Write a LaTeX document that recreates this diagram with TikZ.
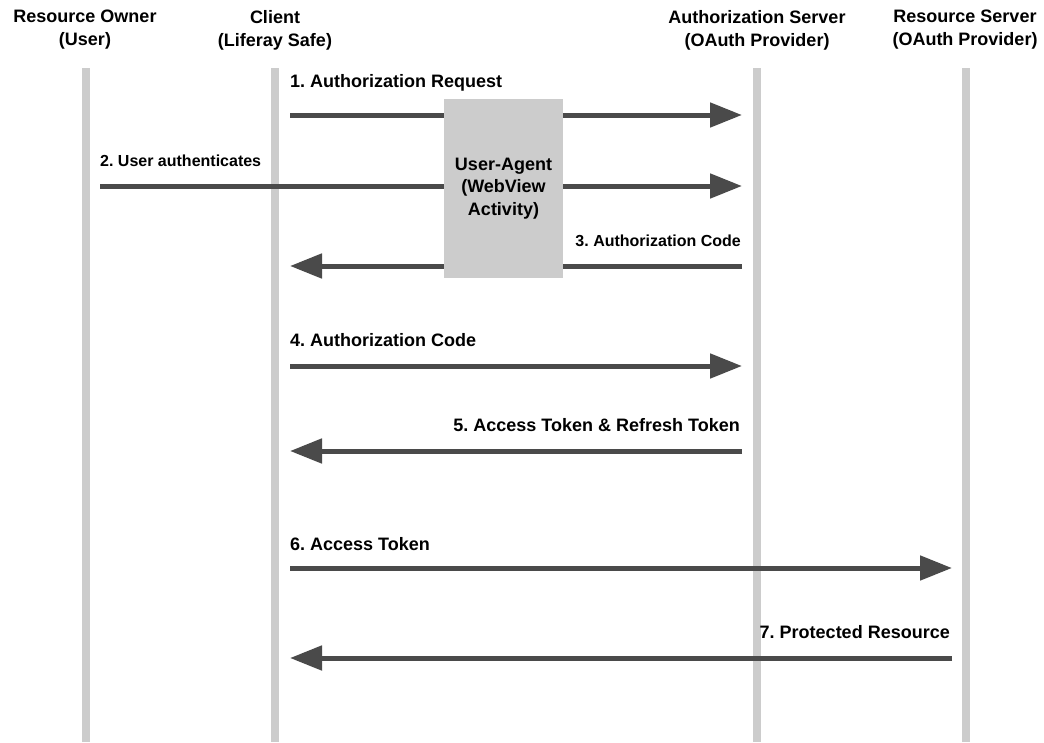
\documentclass[tikz,border=0pt]{standalone}
\usepackage{fontspec}
\setmainfont{Liberation Sans}
\usetikzlibrary{arrows.meta}
\definecolor{lifegray}{HTML}{CCCCCC}
\definecolor{msgdark}{HTML}{4A4A4A}
\frenchspacing
\begin{document}
\begin{tikzpicture}[x=1pt,y=-1pt,
  actor/.style={font=\bfseries\fontsize{18}{23}\selectfont, align=center, inner sep=0pt},
  lifeline/.style={draw=lifegray, line width=8pt},
  msg/.style={draw=msgdark, line width=5pt, -{Triangle[length=32pt,width=24pt]}, shorten >=0pt},
  biglabel/.style={font=\bfseries\fontsize{18}{22}\selectfont, inner sep=0pt},
  smalllabel/.style={font=\bfseries\fontsize{16}{20}\selectfont, inner sep=0pt},
  agent/.style={fill=lifegray, draw=none, minimum width=119pt, minimum height=179pt, inner sep=0pt,
    font=\bfseries\fontsize{18}{22.5}\selectfont, align=center, text=black}]
\useasboundingbox (0,0) rectangle (1044,742);
\fill[white] (0,0) rectangle (1044,742);

% participants
\node[actor] (owner)  at (85,30)  {Resource Owner\\(User)};
\node[actor] (client) at (275,30) {Client\\(Liferay Safe)};
\node[actor] (auth)   at (757,30) {Authorization Server\\(OAuth Provider)};
\node[actor] (res)    at (965,30) {Resource Server\\(OAuth Provider)};

% lifelines
\coordinate (ownerTop) at (86,68);   \coordinate (ownerBot) at (86,742);
\coordinate (clientTop) at (275,68); \coordinate (clientBot) at (275,742);
\coordinate (authTop) at (757,68);   \coordinate (authBot) at (757,742);
\coordinate (resTop) at (966,68);    \coordinate (resBot) at (966,742);
\draw[lifeline] (ownerTop) -- (ownerBot);
\draw[lifeline] (clientTop) -- (clientBot);
\draw[lifeline] (authTop) -- (authBot);
\draw[lifeline] (resTop) -- (resBot);

% message end points
\coordinate (m1a) at (290,115); \coordinate (m1b) at (742,115);
\coordinate (m2a) at (100,186); \coordinate (m2b) at (742,186);
\coordinate (m3a) at (742,266); \coordinate (m3b) at (290,266);
\coordinate (m4a) at (290,366); \coordinate (m4b) at (742,366);
\coordinate (m5a) at (742,451); \coordinate (m5b) at (290,451);
\coordinate (m6a) at (290,568); \coordinate (m6b) at (952,568);
\coordinate (m7a) at (952,658); \coordinate (m7b) at (290,658);

% messages
\draw[msg] (m1a) -- (m1b);
\draw[msg] (m2a) -- (m2b);
\draw[msg] (m3a) -- (m3b);
\draw[msg] (m4a) -- (m4b);
\draw[msg] (m5a) -- (m5b);
\draw[msg] (m6a) -- (m6b);
\draw[msg] (m7a) -- (m7b);

% user agent box over the first three messages
\node[agent] (agent) at (503.5,188.5) {User-Agent\\(WebView\\Activity)};

% message labels
\node[biglabel, anchor=west] (l1) at (290,83) {1. Authorization Request};
\node[smalllabel, anchor=west] (l2) at (100,161) {2. User authenticates};
\node[smalllabel, anchor=east] (l3) at (741,241) {3. Authorization Code};
\node[biglabel, anchor=west] (l4) at (290,340) {4. Authorization Code};
\node[biglabel, anchor=east] (l5) at (740,425) {5. Access Token \& Refresh Token};
\node[biglabel, anchor=west] (l6) at (290,544) {6. Access Token};
\node[biglabel, anchor=east] (l7) at (950,632) {7. Protected Resource};
\end{tikzpicture}
\end{document}
